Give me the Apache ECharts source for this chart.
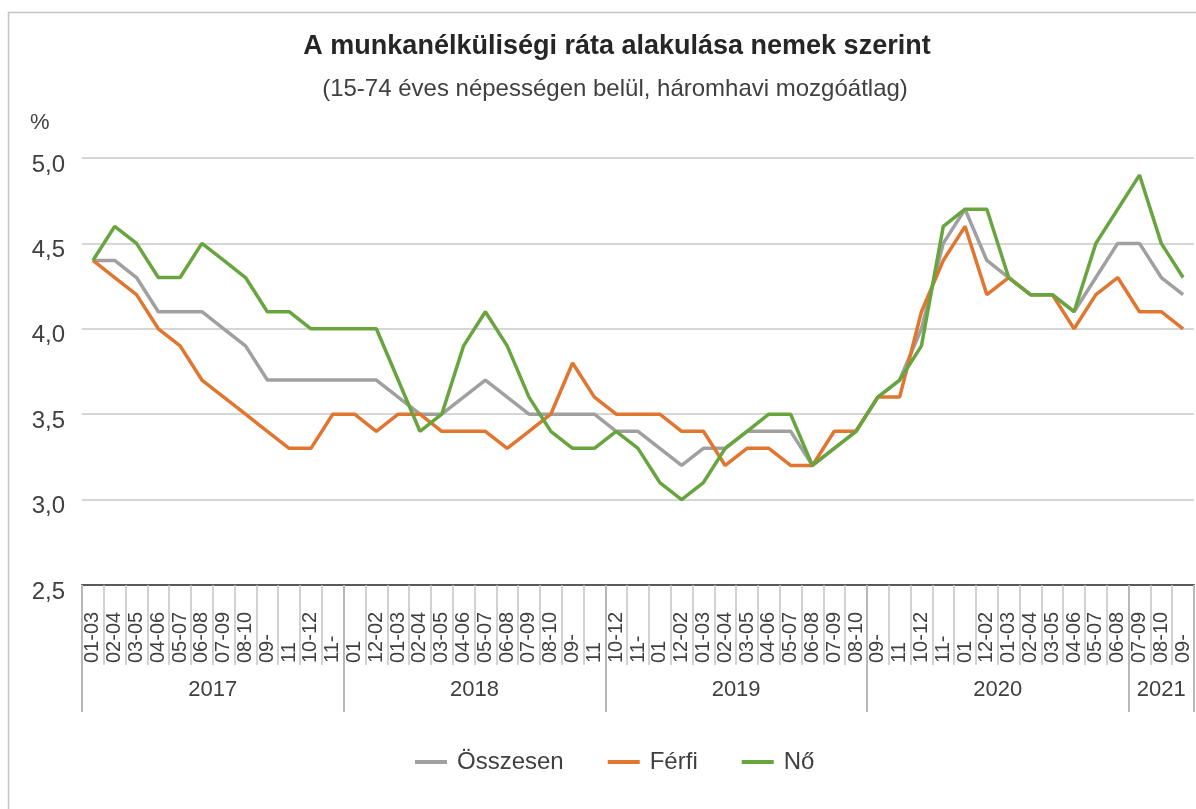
<!DOCTYPE html>
<html>
<head>
<meta charset="utf-8">
<script src="https://cdn.jsdelivr.net/npm/echarts@6/dist/echarts.min.js"></script>
<style>
  html, body { margin: 0; padding: 0; background: #fff; }
  #main { width: 1196px; height: 809px; }
</style>
</head>
<body>
<div id="main"></div>
<script>
// tick labels as they appear under the axis (one per month slot)
var categories = [
  "01-03", "02-04", "03-05", "04-06", "05-07", "06-08", "07-09", "08-10", "09-", "11", "10-12", "11-",
  "01", "12-02", "01-03", "02-04", "03-05", "04-06", "05-07", "06-08", "07-09", "08-10", "09-", "11",
  "10-12", "11-", "01", "12-02", "01-03", "02-04", "03-05", "04-06", "05-07", "06-08", "07-09", "08-10",
  "09-", "11", "10-12", "11-", "01", "12-02", "01-03", "02-04", "03-05", "04-06", "05-07", "06-08",
  "07-09", "08-10", "09-"
];
var years = ["2017", "2018", "2019", "2020", "2021"];
var yearSpans = [12, 12, 12, 12, 3];

var osszesen = [
  4.4, 4.4, 4.3, 4.1, 4.1, 4.1, 4.0, 3.9, 3.7, 3.7, 3.7, 3.7,
  3.7, 3.7, 3.6, 3.5, 3.5, 3.6, 3.7, 3.6, 3.5, 3.5, 3.5, 3.5,
  3.4, 3.4, 3.3, 3.2, 3.3, 3.3, 3.4, 3.4, 3.4, 3.2, 3.3, 3.4,
  3.6, 3.7, 4.0, 4.5, 4.7, 4.4, 4.3, 4.2, 4.2, 4.1, 4.3, 4.5,
  4.5, 4.3, 4.2
];
var ferfi = [
  4.4, 4.3, 4.2, 4.0, 3.9, 3.7, 3.6, 3.5, 3.4, 3.3, 3.3, 3.5,
  3.5, 3.4, 3.5, 3.5, 3.4, 3.4, 3.4, 3.3, 3.4, 3.5, 3.8, 3.6,
  3.5, 3.5, 3.5, 3.4, 3.4, 3.2, 3.3, 3.3, 3.2, 3.2, 3.4, 3.4,
  3.6, 3.6, 4.1, 4.4, 4.6, 4.2, 4.3, 4.2, 4.2, 4.0, 4.2, 4.3,
  4.1, 4.1, 4.0
];
var no = [
  4.4, 4.6, 4.5, 4.3, 4.3, 4.5, 4.4, 4.3, 4.1, 4.1, 4.0, 4.0,
  4.0, 4.0, 3.7, 3.4, 3.5, 3.9, 4.1, 3.9, 3.6, 3.4, 3.3, 3.3,
  3.4, 3.3, 3.1, 3.0, 3.1, 3.3, 3.4, 3.5, 3.5, 3.2, 3.3, 3.4,
  3.6, 3.7, 3.9, 4.6, 4.7, 4.7, 4.3, 4.2, 4.2, 4.1, 4.5, 4.7,
  4.9, 4.5, 4.3
];

// year group boundaries and centres on a 0..N scale
var yearBounds = [0];
var yearCenters = [];
for (var i = 0; i < yearSpans.length; i++) {
  yearCenters.push(yearBounds[i] + yearSpans[i] / 2);
  yearBounds.push(yearBounds[i] + yearSpans[i]);
}

var font = "'Liberation Sans', Arial, sans-serif";
var textColor = "#404040";

var myChart = echarts.init(document.getElementById("main"));

var option = {
  animation: false,
  textStyle: { fontFamily: font },
  title: [
    {
      text: "A munkanélküliségi ráta alakulása nemek szerint",
      left: 612,
      textAlign: "center",
      top: 28,
      textStyle: { fontSize: 27, fontWeight: "bold", color: "#262626", fontFamily: font },
    },
    {
      text: "(15-74 éves népességen belül, háromhavi mozgóátlag)",
      left: 610,
      textAlign: "center",
      top: 72,
      textStyle: { fontSize: 24, fontWeight: "normal", color: textColor, fontFamily: font },
    },
  ],
  graphic: [
    {
      type: "rect",
      shape: { x: 8.5, y: 12.5, width: 1200, height: 820 },
      style: { fill: "none", stroke: "#c4c4c4", lineWidth: 1.5 },
    },
    {
      type: "text",
      left: 30,
      top: 112,
      style: { text: "%", fontSize: 22, fill: textColor, fontFamily: font },
    },
  ],
  legend: {
    bottom: 30,
    left: 410,
    icon: "rect",
    itemWidth: 32,
    itemHeight: 4,
    itemGap: 44,
    textStyle: { fontSize: 24, color: textColor, fontFamily: font, padding: [0, 0, 0, 5] },
    data: ["Összesen", "Férfi", "Nő"],
  },
  grid: { left: 82, right: 2, top: 158, bottom: 224, containLabel: false },
  xAxis: [
    {
      type: "category",
      data: categories,
      boundaryGap: true,
      axisLine: { lineStyle: { color: "#595959", width: 2 } },
      axisTick: { show: true, interval: 0, length: 80, lineStyle: { color: "#c4c4c4", width: 1.5 } },
      axisLabel: {
        interval: 0,
        rotate: 90,
        align: "left",
        margin: 78,
        fontSize: 20,
        color: textColor,
        fontFamily: font,
      },
      splitLine: { show: false },
    },
    {
      type: "value",
      min: 0,
      max: yearBounds[yearBounds.length - 1],
      position: "bottom",
      axisLine: { show: false },
      splitLine: { show: false },
      axisTick: {
        show: true,
        customValues: yearBounds,
        length: 127,
        lineStyle: { color: "#b8b8b8", width: 2 },
      },
      axisLabel: {
        customValues: yearCenters,
        margin: 94,
        fontSize: 22,
        color: textColor,
        fontFamily: font,
        formatter: function (v) {
          var idx = yearCenters.indexOf(v);
          return idx >= 0 ? years[idx] : "";
        },
      },
    },
  ],
  yAxis: {
    type: "value",
    min: 2.5,
    max: 5,
    interval: 0.5,
    axisLine: { show: false },
    axisTick: { show: false },
    splitLine: { lineStyle: { color: "#c9c9c9", width: 1.5 } },
    axisLabel: {
      margin: 17,
      fontSize: 24,
      verticalAlign: "top",
      lineHeight: 14,
      color: textColor,
      fontFamily: font,
      formatter: function (v) {
        return v.toFixed(1).replace(".", ",");
      },
    },
  },
  series: [
    {
      name: "Összesen",
      type: "line",
      data: osszesen,
      symbol: "none",
      lineStyle: { color: "#a0a0a0", width: 3.5 },
      itemStyle: { color: "#a0a0a0" },
    },
    {
      name: "Férfi",
      type: "line",
      data: ferfi,
      symbol: "none",
      lineStyle: { color: "#e07630", width: 3.5 },
      itemStyle: { color: "#e07630" },
    },
    {
      name: "Nő",
      type: "line",
      data: no,
      symbol: "none",
      lineStyle: { color: "#68a53f", width: 3.5 },
      itemStyle: { color: "#68a53f" },
    },
  ],
};

myChart.setOption(option);
</script>
</body>
</html>
